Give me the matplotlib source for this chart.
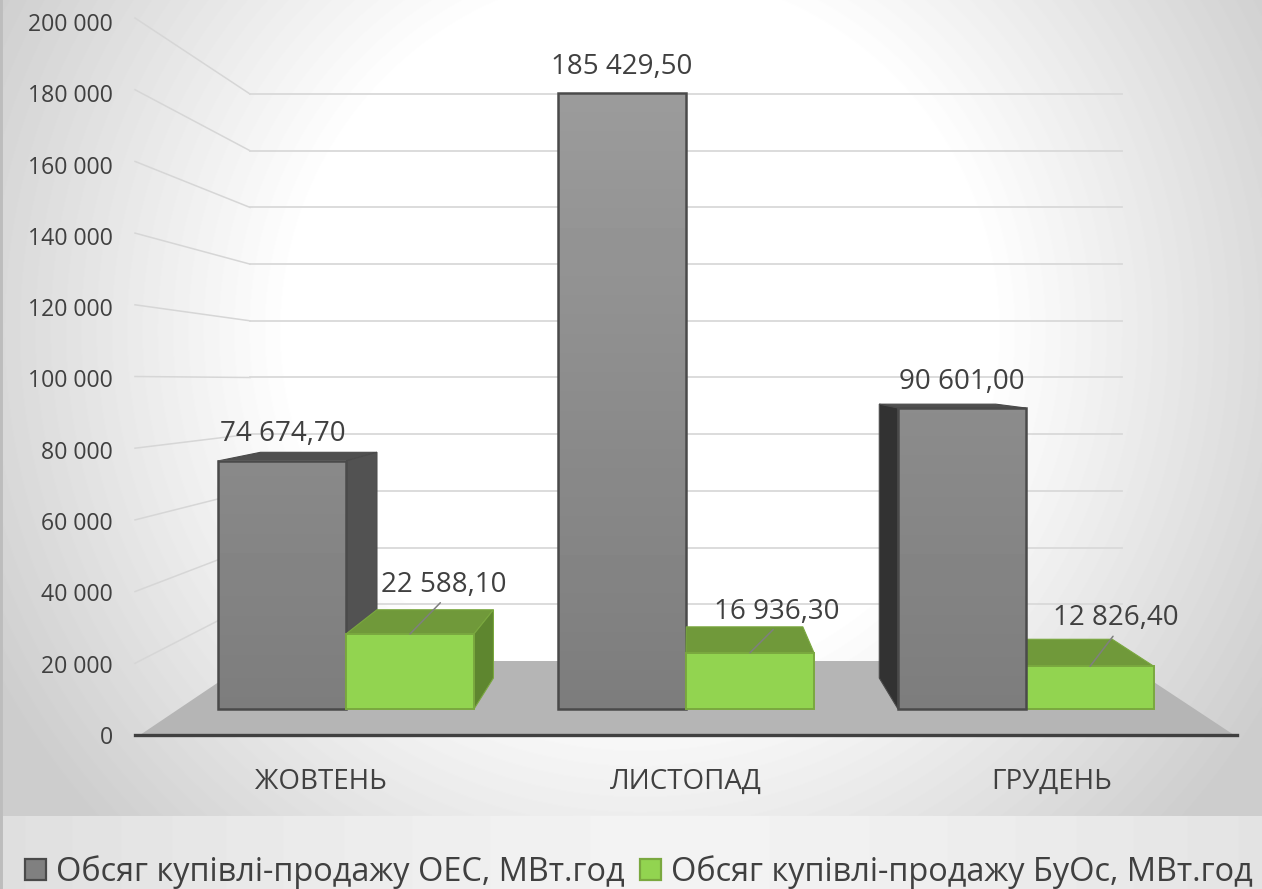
import numpy as np
import matplotlib
matplotlib.use("Agg")
import matplotlib.pyplot as plt
from matplotlib.patches import Patch, Polygon

plt.rcParams['font.family'] = ['Open Sans', 'DejaVu Sans']

months = ["ЖОВТЕНЬ", "ЛИСТОПАД", "ГРУДЕНЬ"]
series_names = ["Обсяг купівлі-продажу ОЕС, МВт.год", "Обсяг купівлі-продажу БуОс, МВт.год"]
oes_values = [74674.70, 185429.50, 90601.00]
buos_values = [22588.10, 16936.30, 12826.40]
oes_labels = ["74 674,70", "185 429,50", "90 601,00"]
buos_labels = ["22 588,10", "16 936,30", "12 826,40"]
y_ticks = [0, 20000, 40000, 60000, 80000, 100000, 120000, 140000, 160000, 180000, 200000]
y_tick_labels = ["0", "20 000", "40 000", "60 000", "80 000", "100 000", "120 000",
                 "140 000", "160 000", "180 000", "200 000"]

W, H = 1262, 889
TEXT = "#404040"
FS = 16.6
FS_BIG = 20


def px_rect(x0, y_top, x1, y_bottom):
    return [x0 / W, 1 - y_bottom / H, (x1 - x0) / W, (y_bottom - y_top) / H]


fig = plt.figure(figsize=(W / 100, H / 100), dpi=100)

# background gradient
bg = fig.add_axes([0, 0, 1, 1], zorder=0)
yy, xx = np.mgrid[0:H, 0:W]
r = np.hypot((xx - 640) / 640, (yy - 330) / 640)
shade = 255 - 50 * np.clip((r - 0.55) / 0.6, 0, 1)
r2 = np.abs(xx - 680) / 680
shade[816:] = (243 - 20 * r2 ** 1.5)[816:]
shade[:, :3] = 190
bg.imshow(shade, cmap="gray", vmin=0, vmax=255, aspect="auto")
bg.axis("off")

# value axis, floor and back wall
wall = fig.add_axes(px_rect(135, 22, 1237, 735), zorder=1)
wall.patch.set_alpha(0)
wall.set_xlim(135, 1237)
wall.set_ylim(0, 200000)
for side in ["top", "left", "right"]:
    wall.spines[side].set_visible(False)
wall.spines["bottom"].set_color("#404040")
wall.spines["bottom"].set_linewidth(2.4)
wall.set_yticks(y_ticks, y_tick_labels, fontsize=FS, color=TEXT)
wall.set_xticks([321, 686, 1052], months, fontsize=FS_BIG, color=TEXT)
wall.tick_params(axis="both", length=0)
wall.tick_params(axis="y", pad=16)
wall.tick_params(axis="x", pad=24)


def back_y(v):
    return (74 + 2.835 * v / 1000) / 3.565 * 1000


wall.add_patch(Polygon([(140, 0), (250, back_y(0)), (1122, back_y(0)), (1234, 0)],
                       closed=True, fc="#b5b5b5", ec="none", zorder=1))
for v in y_ticks[1:]:
    wall.plot([135, 250], [v * 3.585 / 3.565, back_y(v)], color="#d6d6d6", lw=1.1, zorder=2,
              clip_on=False)
    wall.plot([250, 1122], [back_y(v), back_y(v)], color="#d9d9d9", lw=1.3, zorder=2,
              clip_on=False)

# front plane of the bars: category index on x, value on y
ax = fig.add_axes([0, 0, 1, 1], zorder=2)
ax.patch.set_alpha(0)
ax.axis("off")
x_lim = ((0 - 346) / 340, (W - 346) / 340)
y_lim = ((709 - H) / 3.322 * 1000, 709 / 3.322 * 1000)
ax.set_xlim(x_lim)
ax.set_ylim(y_lim)

BAR_W = 128 / 340
DEPTH = 0.09
VP_X = (690 - 346) / 340
VP_Y = (709 - 365) / 3.322 * 1000


def to_back(x, y):
    return x + DEPTH * (VP_X - x), y + DEPTH * (VP_Y - y)


def draw_bar(x0, v, face, edge, top_col, side_col):
    x1 = x0 + BAR_W
    z = 10 - abs((x0 + x1) / 2 - VP_X)
    if v < VP_Y:
        ax.add_patch(Polygon([(x0, v), (x1, v), to_back(x1, v), to_back(x0, v)], closed=True,
                             fc=top_col, ec=edge, lw=0.8, zorder=z))
    if x1 < VP_X:
        ax.add_patch(Polygon([(x1, 0), (x1, v), to_back(x1, v), to_back(x1, 0)], closed=True,
                             fc=side_col, ec=edge, lw=0.8, zorder=z))
    if x0 > VP_X:
        ax.add_patch(Polygon([(x0, 0), (x0, v), to_back(x0, v), to_back(x0, 0)], closed=True,
                             fc=side_col, ec=edge, lw=0.8, zorder=z))
    if face is None:
        # grey faces get lighter with height
        top_shade = 125 + 30 * v / oes_values[1]
        grad = np.linspace(top_shade, 125, 64).reshape(-1, 1)
        ax.imshow(grad, cmap="gray", vmin=0, vmax=255, aspect="auto",
                  extent=[x0, x1, 0, v], zorder=z + 0.001)
        ax.bar(x0, v, BAR_W, align="edge", fc="none", ec=edge, lw=1.8, zorder=z + 0.002)
    else:
        ax.bar(x0, v, BAR_W, align="edge", fc=face, ec=edge, lw=1.4, zorder=z + 0.002)


side_greys = ["#525252", "#525252", "#323232"]
for i in range(3):
    draw_bar(i - BAR_W, oes_values[i], None, "#4a4a4a", "#4f4f4f", side_greys[i])
    draw_bar(i, buos_values[i], "#92d450", "#7aa83f", "#70993a", "#5e862f")
ax.set_xlim(x_lim)
ax.set_ylim(y_lim)

# data labels (offsets in pixels from the top centre of the front face)
oes_offsets = [(1, 27), (0, 26), (0, 26)]
buos_offsets = [(34, 49), (27, 41), (26, 48)]
for i in range(3):
    ax.annotate(oes_labels[i], (i - BAR_W / 2, oes_values[i]), xytext=oes_offsets[i],
                textcoords="offset pixels", ha="center", va="center", fontsize=FS_BIG, color=TEXT,
                zorder=20)
    ax.annotate(buos_labels[i], (i + BAR_W / 2, buos_values[i]), xytext=buos_offsets[i],
                textcoords="offset pixels", ha="center", va="center", fontsize=FS_BIG, color=TEXT,
                zorder=20,
                arrowprops=dict(arrowstyle="-", color="#7f7f7f", lw=1.1, relpos=(0.5, 0),
                                shrinkA=1, shrinkB=0))

handles = [Patch(fc="#808080", ec="#4a4a4a", lw=1.6), Patch(fc="#92d450", ec="#7aa83f", lw=1.6)]
fig.legend(handles, series_names, loc="center left", bbox_to_anchor=(25 / W, 1 - 872 / H),
           ncols=2, frameon=False, fontsize=23.4, labelcolor=TEXT, handlelength=0.64,
           handleheight=0.64, handletextpad=0.3, columnspacing=0.5, borderaxespad=0, borderpad=0)

fig.savefig("out.png", dpi=100)
